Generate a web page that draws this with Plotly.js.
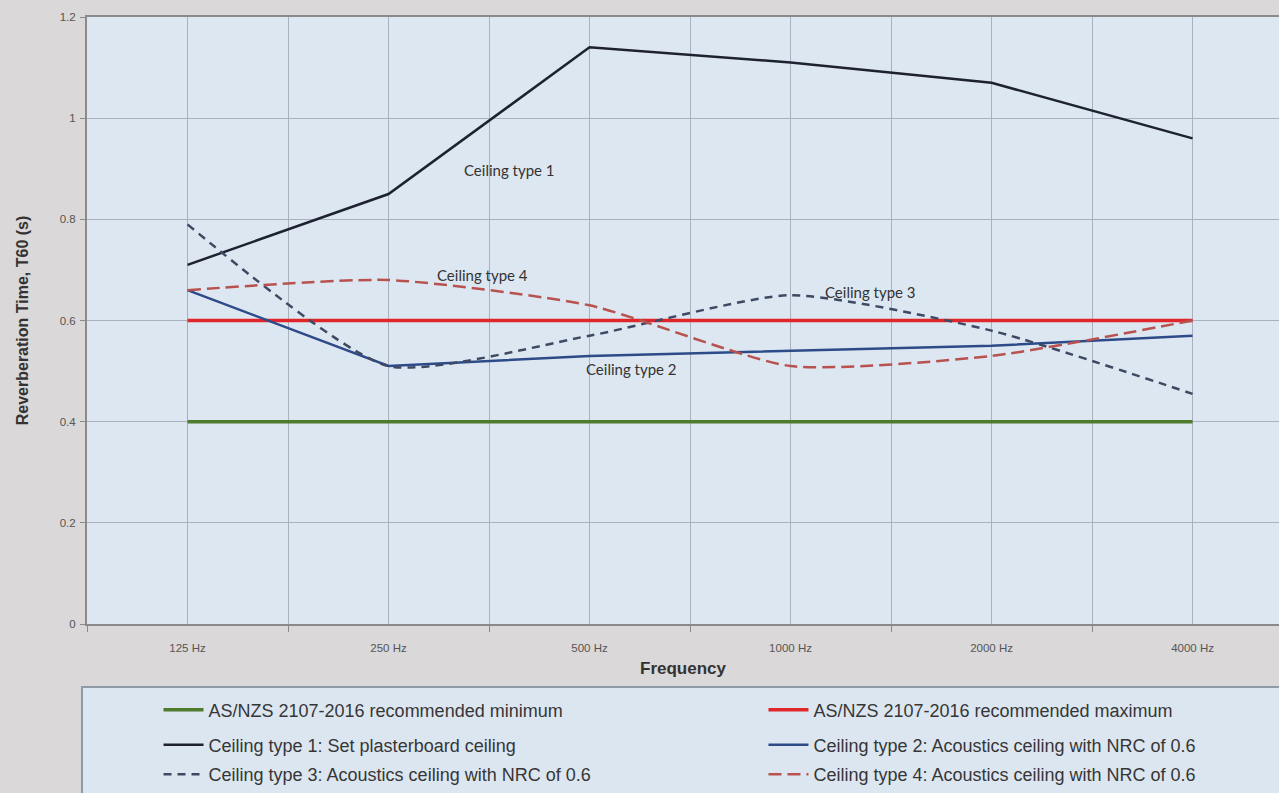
<!DOCTYPE html>
<html>
<head>
<meta charset="utf-8">
<script src="https://cdn.plot.ly/plotly-3.0.1.min.js"></script>
<style>html,body{margin:0;padding:0;background:#dad8d8;}#chart{width:1279px;height:793px;}</style>
</head>
<body>
<div id="chart"></div>
<script>
// ---- data ----
const categories = ["125 Hz", "250 Hz", "500 Hz", "1000 Hz", "2000 Hz", "4000 Hz"];
const recMin = [0.40, 0.40, 0.40, 0.40, 0.40, 0.40];
const recMax = [0.60, 0.60, 0.60, 0.60, 0.60, 0.60];
const ceiling1 = [0.71, 0.85, 1.14, 1.11, 1.07, 0.96];
const ceiling2 = [0.66, 0.51, 0.53, 0.54, 0.55, 0.57];
const ceiling3 = [0.79, 0.51, 0.57, 0.65, 0.58, 0.455];
const ceiling4 = [0.66, 0.68, 0.63, 0.51, 0.53, 0.60];
const seriesNames = [
  "AS/NZS 2107-2016 recommended minimum",
  "AS/NZS 2107-2016 recommended maximum",
  "Ceiling type 1: Set plasterboard ceiling",
  "Ceiling type 2: Acoustics ceiling with NRC of 0.6",
  "Ceiling type 3: Acoustics ceiling with NRC of 0.6",
  "Ceiling type 4: Acoustics ceiling with NRC of 0.6"
];
const labelTexts = ["Ceiling type 1", "Ceiling type 4", "Ceiling type 3", "Ceiling type 2"];

const xi = categories.map((c, i) => i);
const boundaries = [-0.5].concat(categories.map((c, i) => i + 0.5));

const legFont = {family: "Liberation Sans, Arial, sans-serif", size: 18, color: "#363636"};

const traces = [
  {x: xi, y: recMin, name: seriesNames[0], mode: "lines", line: {color: "#4f7b2c", width: 3.5}, legend: "legend"},
  {x: xi, y: recMax, name: seriesNames[1], mode: "lines", line: {color: "#e0262a", width: 3.5}, legend: "legend2"},
  {x: xi, y: ceiling1, name: seriesNames[2], mode: "lines", line: {color: "#1e2230", width: 2.5}, legend: "legend3"},
  {x: xi, y: ceiling2, name: seriesNames[3], mode: "lines", line: {color: "#2c4b88", width: 2.5}, legend: "legend4"},
  {x: xi, y: ceiling3, name: seriesNames[4], mode: "lines", line: {color: "#3f4963", width: 2.5, dash: "8px,6px", shape: "spline", smoothing: 0.6}, legend: "legend5"},
  {x: xi, y: ceiling4, name: seriesNames[5], mode: "lines", line: {color: "#b8524f", width: 2.5, dash: "13px,6px", shape: "spline", smoothing: 0.6}, legend: "legend6"}
];

function mkLegend(x, y) {
  return {orientation: "h", x: x, xanchor: "left", y: y, yanchor: "middle",
    bgcolor: "rgba(0,0,0,0)", borderwidth: 0, font: legFont, itemwidth: 40};
}
const col1 = 0.06, col2 = 0.5675;
const row1 = -0.1398, row2 = -0.1974, row3 = -0.2484;

const annFont = {family: "Lato, Noto Sans, sans-serif", size: 15, color: "#333"};
const layout = {
  width: 1279, height: 793,
  paper_bgcolor: "#dad8d8",
  plot_bgcolor: "#dde7f1",
  margin: {l: 87, r: 0, t: 17, b: 168},
  font: {family: "Liberation Sans, Arial, sans-serif", color: "#555"},
  xaxis: {
    range: [-0.5, 5.43],
    tickmode: "array", tickvals: xi, ticktext: categories,
    ticks: "", ticklabelstandoff: 12,
    showgrid: true, gridcolor: "#a8b1bd", gridwidth: 1,
    minor: {tickmode: "array", tickvals: boundaries, ticks: "outside", ticklen: 6, tickcolor: "#8a8a8a", showgrid: true, gridcolor: "#a8b1bd", gridwidth: 1},
    showline: true, linecolor: "#8a8a8a", linewidth: 2, mirror: true,
    zeroline: false, automargin: false,
    tickfont: {size: 11.5, color: "#555"},
    title: {text: "Frequency", font: {size: 17, color: "#333", family: "Liberation Sans, Arial, sans-serif", weight: "bold"}, standoff: 9}
  },
  yaxis: {
    range: [0, 1.2], dtick: 0.2, tick0: 0,
    ticks: "outside", ticklen: 5, tickcolor: "#8a8a8a", ticklabelstandoff: 2,
    showgrid: true, gridcolor: "#a8b1bd", gridwidth: 1,
    showline: true, linecolor: "#8a8a8a", linewidth: 2, mirror: true,
    zeroline: false, automargin: false,
    tickfont: {size: 11.5, color: "#555"},
    title: {text: "Reverberation Time, T60 (s)", font: {size: 16, color: "#333", family: "Liberation Sans, Arial, sans-serif", weight: "bold"}, standoff: 27}
  },
  showlegend: true,
  legend: mkLegend(col1, row1),
  legend2: mkLegend(col2, row1),
  legend3: mkLegend(col1, row2),
  legend4: mkLegend(col2, row2),
  legend5: mkLegend(col1, row3),
  legend6: mkLegend(col2, row3),
  shapes: [{type: "rect", xref: "paper", yref: "paper", x0: -0.0042, x1: 1.02, y0: -0.1036, y1: -0.3,
    fillcolor: "#dce6f1", line: {color: "#8f9aa6", width: 2}, layer: "below"}],
  annotations: [
    {x: 1.60, y: 0.898, text: labelTexts[0], showarrow: false, font: annFont},
    {x: 1.47, y: 0.689, text: labelTexts[1], showarrow: false, font: annFont},
    {x: 3.40, y: 0.657, text: labelTexts[2], showarrow: false, font: annFont},
    {x: 2.21, y: 0.505, text: labelTexts[3], showarrow: false, font: annFont}
  ]
};

Plotly.newPlot("chart", traces, layout, {displayModeBar: false, staticPlot: true});
</script>
</body>
</html>
